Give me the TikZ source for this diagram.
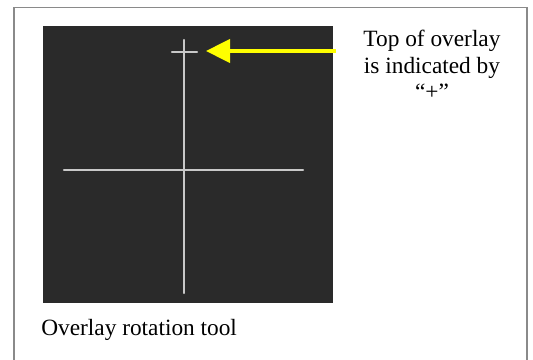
\documentclass[tikz,border=0pt]{standalone}
\usepackage{fontspec}
\setmainfont{Liberation Serif}
\usetikzlibrary{arrows.meta}
\definecolor{framegray}{HTML}{8A8A8A}
\definecolor{darkimg}{HTML}{2A2A2A}
\definecolor{crossgray}{HTML}{C8C8C8}
\definecolor{arrowyellow}{HTML}{FFFF00}
\tikzset{
  frameline/.style={draw=framegray, line width=1.1pt},
  crossline/.style={draw=crossgray, line width=1.7pt, line cap=round},
  pointer/.style={draw=arrowyellow, line width=2.3pt, -{Triangle[length=18pt,width=17.5pt]}},
  caption/.style={font=\fontsize{17.5pt}{20pt}\selectfont, inner sep=0pt, text=black}
}
\begin{document}
\begin{tikzpicture}[x=0.75pt,y=-0.75pt]
\useasboundingbox (0,0) rectangle (533,360);
\fill[white] (0,0) rectangle (533,360);
% outer frame (bottom edge lies outside)
\draw[frameline] (14,375) -- (14,7.5) -- (527,7.5) -- (527,375);
% dark screenshot
\node[fill=darkimg, inner sep=0pt, minimum width=290.5pt*0.75, minimum height=276.5pt*0.75, anchor=north west] (img) at (42.5,26) {};
% cross
\coordinate (vtop) at (184,62);
\coordinate (vbot) at (184,293);
\coordinate (hleft) at (64,170);
\coordinate (hright) at (303,170);
\draw[crossline] (vtop) -- (vbot);
\draw[crossline] (hleft) -- (hright);
% small plus marker at top
\coordinate (ptop) at (184,40);
\coordinate (pbot) at (184,62);
\coordinate (pleft) at (172,51.7);
\coordinate (pright) at (197,51.7);
\draw[crossline] (ptop) -- (pbot);
\draw[crossline] (pleft) -- (pright);
% yellow arrow
\coordinate (astart) at (336,51);
\coordinate (atip) at (206,51);
\draw[pointer] (astart) -- (atip);
% texts
\node[caption, align=center, anchor=base] (note) at (432,100) {Top of overlay\\is indicated by\\``+''};
\node[caption, anchor=base west] (cap) at (41,335) {Overlay rotation tool};
\end{tikzpicture}
\end{document}
